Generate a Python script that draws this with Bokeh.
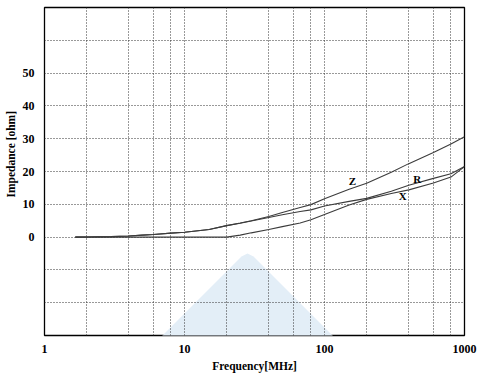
from bokeh.plotting import figure
from bokeh.models import FixedTicker, PolyAnnotation, NumeralTickFormatter, ColumnDataSource
from bokeh.core.properties import value
from bokeh.embed import file_html
from bokeh.resources import INLINE

# Frequency sweep [MHz] and impedance components [ohm]
freq = [1.66, 2, 3, 4, 5, 6, 8, 10, 15, 20, 25, 30, 40, 50, 67, 80, 100,
        150, 200, 300, 400, 600, 800, 1000]
z_ohm = [0.0, 0.05, 0.15, 0.35, 0.6, 0.8, 1.2, 1.5, 2.3, 3.5, 4.3, 5.0, 6.3,
         7.5, 9.0, 9.9, 11.7, 14.6, 16.4, 19.8, 22.4, 25.8, 28.4, 30.6]
r_ohm = [0.0, 0.05, 0.15, 0.35, 0.6, 0.8, 1.2, 1.5, 2.3, 3.5, 4.2, 4.9, 6.0,
         6.8, 7.8, 8.3, 9.5, 10.9, 11.8, 14.0, 15.8, 17.9, 19.3, 21.5]
x_ohm = [0.0, 0.0, 0.0, 0.0, 0.0, 0.0, 0.0, 0.0, 0.0, 0.0, 0.6, 1.3, 2.3,
         3.2, 4.3, 5.3, 6.9, 9.8, 11.5, 13.3, 14.4, 16.5, 18.3, 21.5]

# Curve names with their label positions
curve_names = ["Z", "R", "X"]
name_freq = [158, 459, 362]
name_ohm = [17.1, 17.8, 12.6]

x_tick_values = [1, 10, 100, 1000]
x_grid_values = [2, 4, 6, 8, 10, 20, 40, 60, 80, 100, 200, 400, 600, 800]
y_tick_values = [0, 10, 20, 30, 40, 50]
y_grid_values = [-20, -10, 0, 10, 20, 30, 40, 50, 60]

SERIF = "Liberation Serif"

p = figure(width=478, height=374, x_axis_type="log",
           x_range=(1, 1000), y_range=(-30, 70),
           output_backend="svg", toolbar_location=None,
           min_border_left=44, min_border_right=14,
           min_border_top=7, min_border_bottom=34)

p.background_fill_color = None
p.border_fill_color = "white"
p.outline_line_color = "black"
p.outline_line_width = 1.3

# light logo mark behind the chart (canvas pixels)
p.add_layout(PolyAnnotation(
    xs=[121, 241, 247, 253, 373],
    ys=[376, 256, 253, 256, 376],
    xs_units="canvas", ys_units="canvas",
    fill_color="#e3eef7", fill_alpha=1.0, line_color=None, level="image"))

for axis in (p.xaxis, p.yaxis):
    axis.axis_line_color = None
    axis.major_tick_line_color = None
    axis.minor_tick_line_color = None
    axis.major_label_text_font = SERIF
    axis.major_label_text_font_style = "bold"
    axis.major_label_text_font_size = "12px"
    axis.major_label_text_color = "black"
    axis.axis_label_text_font = SERIF
    axis.axis_label_text_font_style = "bold"
    axis.axis_label_text_font_size = "11.5px"
    axis.axis_label_text_color = "black"

p.xaxis.ticker = FixedTicker(ticks=x_tick_values)
p.xaxis.formatter = NumeralTickFormatter(format="0")
p.xaxis.major_label_standoff = 3
p.xaxis.axis_label = "Frequency[MHz]"
p.xaxis.axis_label_standoff = 4

p.yaxis.ticker = FixedTicker(ticks=y_tick_values)
p.yaxis.major_label_standoff = 4
# leading figure spaces lift the rotated title a little above the frame centre
p.yaxis.axis_label = "\u2007" * 6 + "Impedance [ohm]"
p.yaxis.axis_label_standoff = 3

p.xgrid.ticker = FixedTicker(ticks=x_grid_values)
p.ygrid.ticker = FixedTicker(ticks=y_grid_values)
for g in (p.xgrid, p.ygrid):
    g.grid_line_color = "#333333"
    g.grid_line_dash = "1 2"
    g.grid_line_width = 1

src = ColumnDataSource(dict(f=freq, z=z_ohm, r=r_ohm, x=x_ohm))
for col in ("x", "r", "z"):
    p.line("f", col, source=src, line_color="#3c3c3c", line_width=1.1)

p.text(x=name_freq, y=name_ohm, text=curve_names,
       text_font=value(SERIF), text_font_style="bold",
       text_font_size="11px", text_align="center",
       text_baseline="middle", text_color="black")

open("out.html", "w").write(file_html(p, INLINE))
